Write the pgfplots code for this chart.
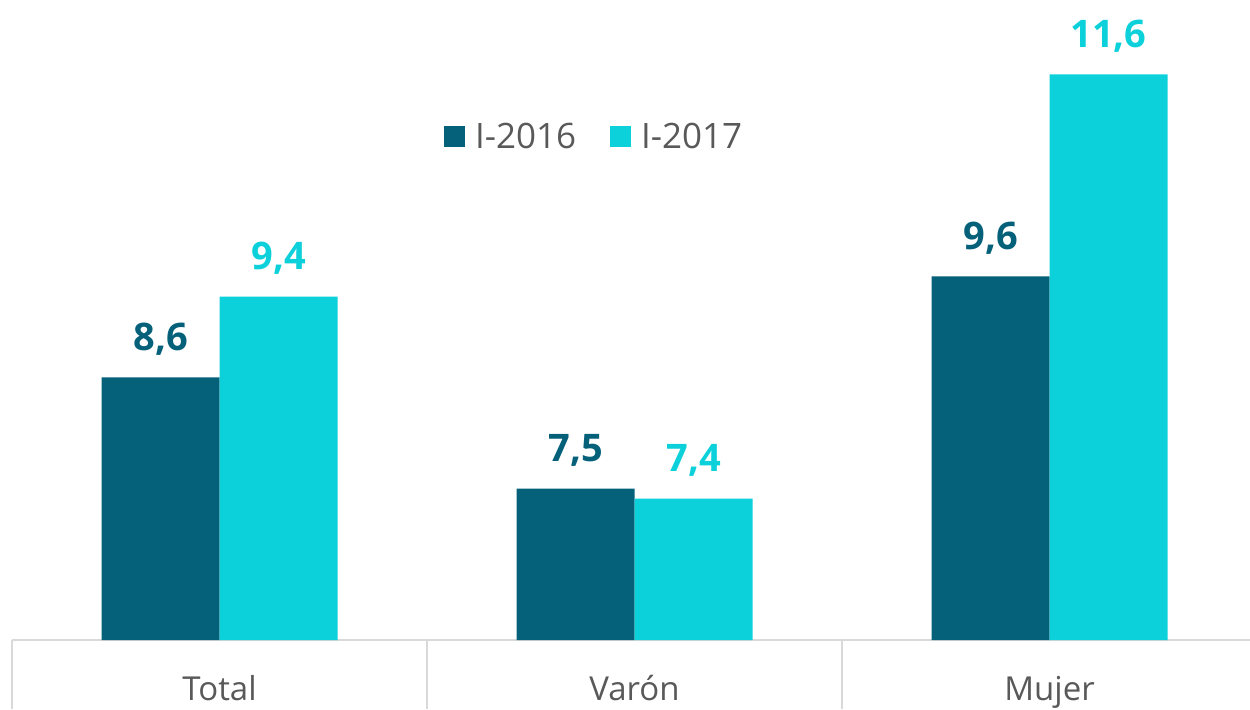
\documentclass[border=0pt]{standalone}
\usepackage{pgfplots}
\pgfplotsset{compat=1.18}
\usepackage{fontspec}
\setmainfont{Open Sans}
\definecolor{dark}{HTML}{05607A}
\definecolor{light}{HTML}{0CD0DA}
\definecolor{txt}{HTML}{595959}
\definecolor{grid}{HTML}{D9D9D9}
\begin{document}
\begin{tikzpicture}
\begin{axis}[
  x=207.5pt, y=50.5pt,
  xmin=-0.5, xmax=2.483, ymin=6, ymax=12.337,
  clip=false,
  axis x line=bottom, axis y line=none,
  x axis line style={-, draw=grid, line width=1pt},
  ytick=\empty,
  xtick={0,1,2},
  xticklabels={Total,Varón,Mujer},
  major tick length=0pt,
  xticklabel style={anchor=base, yshift=-30pt, font=\fontsize{16.5}{20}\selectfont, text=txt},
  extra x ticks={-0.5,0.5,1.5},
  extra x tick labels={},
  extra x tick style={xtick align=outside, major tick length=34.5pt, tick style={draw=grid, line width=1pt}},
  ybar, bar width=59pt,
  nodes near coords={\pgfmathprintnumber[fixed,fixed zerofill,precision=1,use comma,assume math mode=true]{\pgfplotspointmeta}},
  every node near coord/.append style={anchor=base, yshift=13.5pt, font=\bfseries\fontsize{19}{22}\selectfont},
  legend columns=2,
  legend style={draw=none, fill=none, at={(0.471,0.786)}, anchor=center, font=\fontsize{17.5}{20}\selectfont, text=txt,
    /tikz/every odd column/.append style={column sep=3pt},
    /tikz/every even column/.append style={column sep=15pt}},
  legend image code/.code={\fill[#1] (0pt,-5.25pt) rectangle (10.5pt,5.25pt);},
]
\addplot[fill=dark, draw=none, bar shift=-29.5pt, every node near coord/.append style={text=dark}] coordinates {(0,8.6) (1,7.5) (2,9.6)};
\addplot[fill=light, draw=none, bar shift=29.5pt, every node near coord/.append style={text=light}] coordinates {(0,9.4) (1,7.4) (2,11.6)};
\legend{I-2016,I-2017}
\coordinate (bl) at (axis cs:-0.5,6);
\coordinate (tr) at (axis cs:2.483,12.337);
\end{axis}
\pgfresetboundingbox
\path ([shift={(-6pt,-34.5pt)}]bl) rectangle (tr);
\end{tikzpicture}
\end{document}
